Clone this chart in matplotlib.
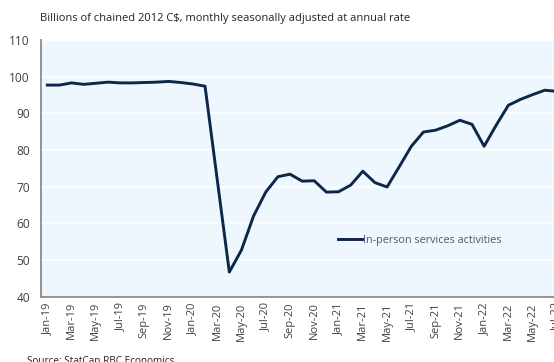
import matplotlib
matplotlib.use("Agg")
import matplotlib.pyplot as plt

months = ["Jan-19", "Feb-19", "Mar-19", "Apr-19", "May-19", "Jun-19", "Jul-19", "Aug-19",
          "Sep-19", "Oct-19", "Nov-19", "Dec-19", "Jan-20", "Feb-20", "Mar-20", "Apr-20",
          "May-20", "Jun-20", "Jul-20", "Aug-20", "Sep-20", "Oct-20", "Nov-20", "Dec-20",
          "Jan-21", "Feb-21", "Mar-21", "Apr-21", "May-21", "Jun-21", "Jul-21", "Aug-21",
          "Sep-21", "Oct-21", "Nov-21", "Dec-21", "Jan-22", "Feb-22", "Mar-22", "Apr-22",
          "May-22", "Jun-22", "Jul-22"]
in_person = [97.7, 97.7, 98.3, 97.9, 98.2, 98.5, 98.3, 98.3, 98.4, 98.5, 98.7, 98.4,
             98.0, 97.4, 72.0, 46.7, 52.7, 62.0, 68.5, 72.7, 73.4, 71.5, 71.6, 68.5,
             68.6, 70.4, 74.2, 71.1, 69.9, 75.4, 81.0, 84.9, 85.4, 86.6, 88.1, 87.0,
             81.0, 86.8, 92.2, 93.8, 95.1, 96.3, 96.0]
series_name = "In-person services activities"
subtitle = "Billions of chained 2012 C$, monthly seasonally adjusted at annual rate"
source = "Source: StatCan RBC Economics"
yticks = [40, 50, 60, 70, 80, 90, 100, 110]

plt.rcParams['font.family'] = ['Open Sans', 'DejaVu Sans']
W, H = 554, 362
fig = plt.figure(figsize=(W / 100, H / 100), dpi=100)
ax = fig.add_axes([41 / W, 65.4 / H, 522 / W, 256.6 / H])
ax.set_facecolor("#EFF7FE")

x = list(range(len(months)))
ax.plot(x, in_person, color="#0C2749", lw=2.1, solid_joinstyle="round", label=series_name,
        zorder=3)

ax.set_ylim(40, 110)
ax.set_yticks(yticks)
ax.set_xlim(-0.52, 42.5)
ax.set_xticks(x[::2])
ax.set_xticklabels(months[::2], rotation=90, fontsize=8, color="#404040")
ax.tick_params(axis="y", labelsize=8.6, colors="#404040", length=0, pad=8)
ax.tick_params(axis="x", length=0, pad=4)
ax.grid(axis="y", color="white", lw=1.2)
ax.set_axisbelow(True)
for s in ["top", "right"]:
    ax.spines[s].set_visible(False)
for s in ["left", "bottom"]:
    ax.spines[s].set_color("#8C8C8C")
    ax.spines[s].set_linewidth(1.3)

leg = ax.legend(loc="center left", bbox_to_anchor=(0.55, 0.22), frameon=False,
                fontsize=7.8, handlelength=2.2, handletextpad=0.1, labelcolor="#595959")

fig.text(40 / W, 1 - 18 / H, subtitle, fontsize=8, color="#222222", va="center")
fig.text(27 / W, 1 - 361 / H, source, fontsize=7.2, color="#222222", va="center")

fig.savefig("out.png", dpi=100, facecolor="white")
